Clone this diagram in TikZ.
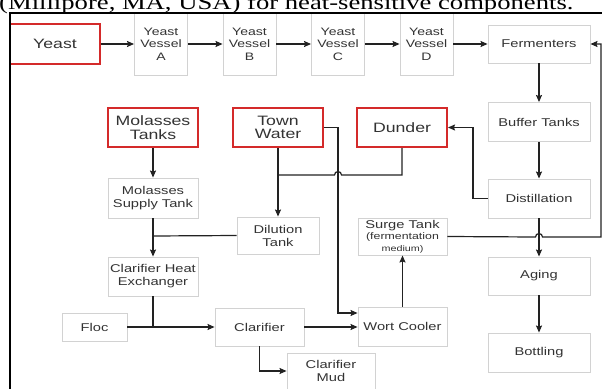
\documentclass[tikz,border=0pt]{standalone}
\usepackage{fontspec}
\setmainfont{Liberation Sans}
\newfontfamily\dfont[FakeStretch=1.3]{Liberation Sans}
\newfontfamily\tfont[FakeStretch=1.3]{Liberation Serif}
\usetikzlibrary{arrows.meta}
\definecolor{boxgray}{HTML}{D2D2D2}
\definecolor{boxred}{HTML}{D42A2A}
\definecolor{ink}{HTML}{222222}
\definecolor{txt}{HTML}{333333}
\begin{document}
\begin{tikzpicture}[x=1pt,y=-1pt,
  gbox/.style={draw=boxgray, line width=0.9pt, fill=white, inner sep=0pt, align=center, text=txt,
    font=\dfont\fontsize{11.3}{13}\selectfont},
  rbox/.style={draw=boxred, line width=2pt, fill=white, inner sep=0pt, align=center, text=txt,
    font=\dfont\fontsize{13.6}{13.6}\selectfont},
  flow/.style={draw=ink, line width=1.2pt, -{Stealth[length=7pt,width=6pt,inset=1pt]}},
  plain/.style={draw=ink, line width=1.2pt},
  vessel/.style={gbox, minimum width=53pt, minimum height=62pt, font=\dfont\fontsize{10.8}{12.5}\selectfont},
]
\useasboundingbox (0,0) rectangle (602,388);
\clip (0,0) rectangle (602,388);

% title line (cut off at the top)
\node[anchor=base west, inner sep=0pt, font=\tfont\fontsize{20.5}{24}\selectfont] (title) at (-1,9.5)
  {(Millipore, MA, USA) for heat-sensitive components.};

% top row
\node[rbox, minimum width=90pt, minimum height=40pt] (yeast) at (55,44) {Yeast};
\node[vessel] (va) at (161,44) {Yeast\\Vessel\\A};
\node[vessel] (vb) at (249.5,44) {Yeast\\Vessel\\B};
\node[vessel] (vc) at (338,44) {Yeast\\Vessel\\C};
\node[vessel] (vd) at (426.5,44) {Yeast\\Vessel\\D};
\node[gbox, minimum width=102pt, minimum height=38pt] (ferm) at (539,44) {Fermenters};

% right column
\node[gbox, minimum width=102pt, minimum height=39pt] (buffer) at (539,122) {Buffer Tanks};
\node[gbox, minimum width=102pt, minimum height=39pt] (dist) at (539,198.5) {Distillation};
\node[gbox, minimum width=102pt, minimum height=38pt] (aging) at (539,276) {Aging};
\node[gbox, minimum width=102pt, minimum height=39pt] (bott) at (539,352.5) {Bottling};

% red sources
\node[rbox, minimum width=90pt, minimum height=39pt] (molt) at (153,127.5) {Molasses\\Tanks};
\node[rbox, minimum width=90pt, minimum height=39pt] (town) at (278,127.5) {Town\\Water};
\node[rbox, minimum width=90pt, minimum height=39pt] (dunder) at (402,127.5) {Dunder};

% middle
\node[gbox, minimum width=90pt, minimum height=40pt] (mst) at (153,198) {Molasses\\Supply Tank};
\node[gbox, minimum width=82pt, minimum height=37pt] (dil) at (278,235.5) {Dilution\\Tank};
\node[gbox, minimum width=89pt, minimum height=37pt] (surge) at (402.5,236.5)
  {Surge Tank\\[-1.5pt]{\fontsize{9.5}{11}\selectfont(fermentation}\\[-1.5pt]{\fontsize{8.3}{10}\selectfont medium)}};
\node[gbox, minimum width=90pt, minimum height=39pt] (che) at (153,276.5) {Clarifier Heat\\Exchanger};
\node[gbox, minimum width=65pt, minimum height=28pt] (floc) at (94.5,327) {Floc};
\node[gbox, minimum width=89pt, minimum height=38pt] (clar) at (259.5,327) {Clarifier};
\node[gbox, minimum width=89pt, minimum height=39pt] (wort) at (402.5,326.5) {Wort Cooler};
\node[gbox, minimum width=88pt, minimum height=36pt] (mud) at (331,371) {Clarifier\\Mud};

% helper coordinates
\coordinate (hopA) at (338,175);
\coordinate (jA) at (278,175);
\coordinate (tw1) at (338,313);
\coordinate (jB) at (153,236);
\coordinate (jC) at (153,327);
\coordinate (hopB) at (539,237);
\coordinate (rc) at (601,237);
\coordinate (dl) at (473,198.5);

% top row arrows
\draw[flow] (yeast) -- (va);
\draw[flow] (va) -- (vb);
\draw[flow] (vb) -- (vc);
\draw[flow] (vc) -- (vd);
\draw[flow] (vd) -- (ferm);

% right column arrows
\draw[flow] (ferm) -- (buffer);
\draw[flow] (buffer) -- (dist);
\draw[flow] (dist) -- (aging);
\draw[flow] (aging) -- (bott);
\draw[flow] (dist.west) -- (dl) |- (dunder.east);

% dunder / town water
\draw[plain] (dunder.south) |- ([xshift=3.5pt]hopA) arc[start angle=0,end angle=180,radius=3.5pt] -- (jA);
\draw[flow] (town) -- (dil);
\draw[flow] (town.east) -| (tw1) -- (tw1 -| wort.west);

% molasses path
\draw[flow] (molt) -- (mst);
\draw[flow] (mst) -- (che);
\draw[plain] (dil.west) -- (jB);
\draw[plain] (che.south) -- (jC);
\draw[flow] (floc) -- (clar);
\draw[flow] (clar.east) -- (clar.east -| wort.west);
\draw[flow] (clar.south) |- (mud.west);
\draw[flow] (wort) -- (surge);

% surge tank back to fermenters
\draw[flow] (surge.east) -- ([xshift=-3.5pt]hopB) arc[start angle=180,end angle=0,radius=3.5pt] -- (rc) |- (ferm.east);

% page frame
\draw[black, line width=2pt] (10,400) -- (10,12.7) -- (610,12.7);
\end{tikzpicture}
\end{document}
